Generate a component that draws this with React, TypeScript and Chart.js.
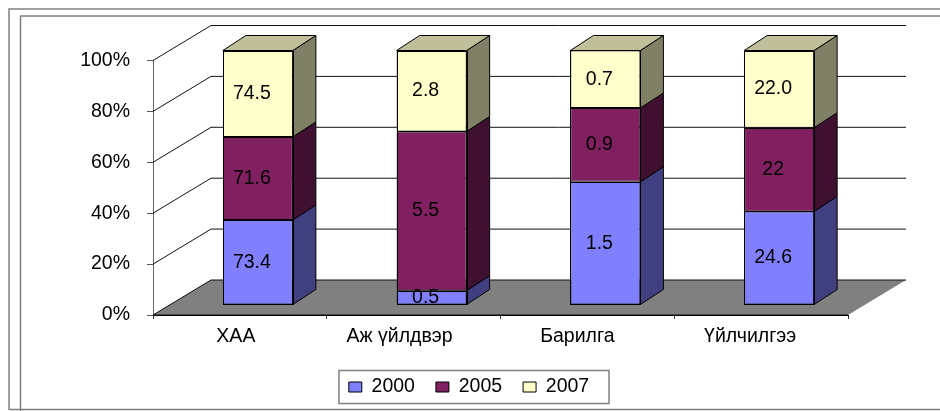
import React, { useEffect, useRef } from "react";
import { Chart, registerables } from "chart.js";

Chart.register(...registerables);

const categories = ["ХАА", "Аж үйлдвэр", "Барилга", "Үйлчилгээ"];
const seriesNames = ["2000", "2005", "2007"];
const values2000 = [73.4, 0.5, 1.5, 24.6];
const values2005 = [71.6, 5.5, 0.9, 22];
// The last yellow block is drawn shorter in the picture than its printed label says.
const values2007 = [74.5, 2.8, 0.7, 20.3];
const labels2000 = ["73.4", "0.5", "1.5", "24.6"];
const labels2005 = ["71.6", "5.5", "0.9", "22"];
const labels2007 = ["74.5", "2.8", "0.7", "22.0"];
const yTicks = [0, 20, 40, 60, 80, 100];

const FONT = "Liberation Sans";
const FONT_SIZE = 19.5;
const fills = ["#8080FF", "#802060", "#FFFFCC"];
const sides = ["#404080", "#401030", "#808066"];
const topFace = "#BFBF99";
const categoryNudge = [-4, -14, -10, -11];
const LEGEND_SHIFT = 10;

const allSeries = [values2000, values2005, values2007];
const allLabels = [labels2000, labels2005, labels2007];
const totals = categories.map((_, i) => allSeries.reduce((s, a) => s + a[i], 0));
const asPercent = (arr: number[]) => arr.map((v, i) => (v / totals[i]) * 100);

// 3D projection, in pixels
const BAR_SHIFT = { x: 18, y: -10 };
const BAR_DEPTH = { x: 23, y: -15 };
const WALL = { x: 58, y: -35 };

const depthPlugin = {
  id: "depth",
  afterLayout(chart: any) {
    chart.legend.left += LEGEND_SHIFT;
    chart.legend.right += LEGEND_SHIFT;
  },
  beforeDatasetsDraw(chart: any) {
    const { ctx, scales } = chart;
    const y = scales.y;
    const x = scales.x;
    const left = x.left;
    const right = x.right;
    const y0 = y.getPixelForValue(0);
    ctx.save();
    // floor
    ctx.fillStyle = "#808080";
    ctx.beginPath();
    ctx.moveTo(left, y0);
    ctx.lineTo(left + WALL.x, y0 + WALL.y);
    ctx.lineTo(right + WALL.x, y0 + WALL.y);
    ctx.lineTo(right, y0);
    ctx.closePath();
    ctx.fill();
    // diagonal and back-wall gridlines
    ctx.strokeStyle = "#111";
    ctx.lineWidth = 1;
    yTicks.forEach((t) => {
      const py = y.getPixelForValue(t);
      ctx.beginPath();
      ctx.moveTo(left, py);
      ctx.lineTo(left + WALL.x, py + WALL.y);
      ctx.lineTo(right + WALL.x, py + WALL.y);
      ctx.stroke();
    });
    ctx.beginPath();
    ctx.moveTo(left, y0);
    ctx.lineTo(right, y0);
    ctx.stroke();
    ctx.restore();
    ctx.save();
    ctx.translate(BAR_SHIFT.x, BAR_SHIFT.y);
  },
  afterDatasetsDraw(chart: any) {
    const { ctx } = chart;
    ctx.lineWidth = 1;
    ctx.strokeStyle = "#000";
    chart.data.datasets.forEach((_: any, d: number) => {
      chart.getDatasetMeta(d).data.forEach((bar: any) => {
        const { x, y, base, width } = bar.getProps(["x", "y", "base", "width"], true);
        const r = x + width / 2;
        const l = x - width / 2;
        ctx.fillStyle = sides[d];
        ctx.beginPath();
        ctx.moveTo(r, y);
        ctx.lineTo(r + BAR_DEPTH.x, y + BAR_DEPTH.y);
        ctx.lineTo(r + BAR_DEPTH.x, base + BAR_DEPTH.y);
        ctx.lineTo(r, base);
        ctx.closePath();
        ctx.fill();
        ctx.stroke();
        if (d === chart.data.datasets.length - 1) {
          ctx.fillStyle = topFace;
          ctx.beginPath();
          ctx.moveTo(l, y);
          ctx.lineTo(l + BAR_DEPTH.x, y + BAR_DEPTH.y);
          ctx.lineTo(r + BAR_DEPTH.x, y + BAR_DEPTH.y);
          ctx.lineTo(r, y);
          ctx.closePath();
          ctx.fill();
          ctx.stroke();
        }
        // crisp outline of the front face
        const h = Math.round(base) - Math.round(y) - (d === 0 ? 1 : 0);
        ctx.strokeRect(Math.round(l) + 0.5, Math.round(y) + 0.5, Math.round(width), h);
      });
    });
    // value labels
    ctx.fillStyle = "#000";
    ctx.font = `${FONT_SIZE}px "${FONT}"`;
    ctx.textAlign = "center";
    ctx.textBaseline = "middle";
    chart.data.datasets.forEach((_: any, d: number) => {
      chart.getDatasetMeta(d).data.forEach((bar: any, i: number) => {
        const { x, y, base } = bar.getProps(["x", "y", "base"], true);
        ctx.fillText(allLabels[d][i], x - 6, (y + base) / 2);
      });
    });
    ctx.restore();
  },
  afterDraw(chart: any) {
    const { ctx, scales } = chart;
    const x = scales.x;
    ctx.save();
    // category labels
    ctx.fillStyle = "#000";
    ctx.font = `${FONT_SIZE}px "${FONT}"`;
    ctx.textAlign = "center";
    ctx.textBaseline = "middle";
    categories.forEach((c, i) => {
      ctx.fillText(c, x.getPixelForValue(i) + categoryNudge[i], x.top + 22);
    });
    // legend frame
    ctx.strokeStyle = "#808080";
    ctx.lineWidth = 1.5;
    ctx.strokeRect(339, 370.5, 270, 33);
    // page frames
    ctx.lineWidth = 1.5;
    ctx.beginPath();
    ctx.moveTo(940, 9);
    ctx.lineTo(9, 9);
    ctx.lineTo(9, 409.5);
    ctx.lineTo(940, 409.5);
    ctx.moveTo(940, 16);
    ctx.lineTo(20.5, 16);
    ctx.lineTo(20.5, 411);
    ctx.stroke();
    ctx.restore();
  },
};

export default function App() {
  const ref = useRef<HTMLCanvasElement>(null);
  useEffect(() => {
    const chart = new Chart(ref.current as HTMLCanvasElement, {
      type: "bar",
      data: {
        labels: categories,
        datasets: seriesNames.map((name, d) => ({
          label: name,
          data: asPercent(allSeries[d]),
          backgroundColor: fills[d],
          borderColor: "#000",
          borderWidth: 1,
          borderSkipped: false,
          barPercentage: 0.403,
          categoryPercentage: 1,
          clip: false as any,
        })),
      },
      options: {
        responsive: false,
        animation: false,
        layout: { padding: { left: 70, right: 92, top: 60.5, bottom: 4.25 } },
        plugins: {
          tooltip: { enabled: false },
          legend: {
            position: "bottom",
            labels: {
              boxWidth: 13,
              boxHeight: 10,
              padding: 21,
              color: "#000",
              font: { family: FONT, size: FONT_SIZE },
            },
          },
        },
        scales: {
          x: {
            stacked: true,
            afterFit: (s: any) => {
              s.height = 41.25;
            },
            border: { color: "#000", width: 1 },
            grid: { drawOnChartArea: false, drawTicks: true, tickLength: 4, color: "#333", offset: true },
            ticks: { display: false },
          },
          y: {
            stacked: true,
            min: 0,
            max: 100,
            afterFit: (s: any) => {
              s.width = 83;
            },
            border: { color: "#666", width: 1 },
            grid: { drawOnChartArea: false, drawTicks: true, tickLength: 6, color: "#555" },
            ticks: {
              stepSize: 20,
              padding: 17,
              color: "#000",
              font: { family: FONT, size: FONT_SIZE },
              callback: (v: any) => `${v}%`,
            },
          },
        },
      },
      plugins: [depthPlugin],
    } as any);
    return () => chart.destroy();
  }, []);
  return (
    <div style={{ position: "absolute", left: 0, top: 0, width: 940, height: 411, background: "#fff" }}>
      <canvas ref={ref} width={940} height={411} style={{ display: "block" }} />
    </div>
  );
}
